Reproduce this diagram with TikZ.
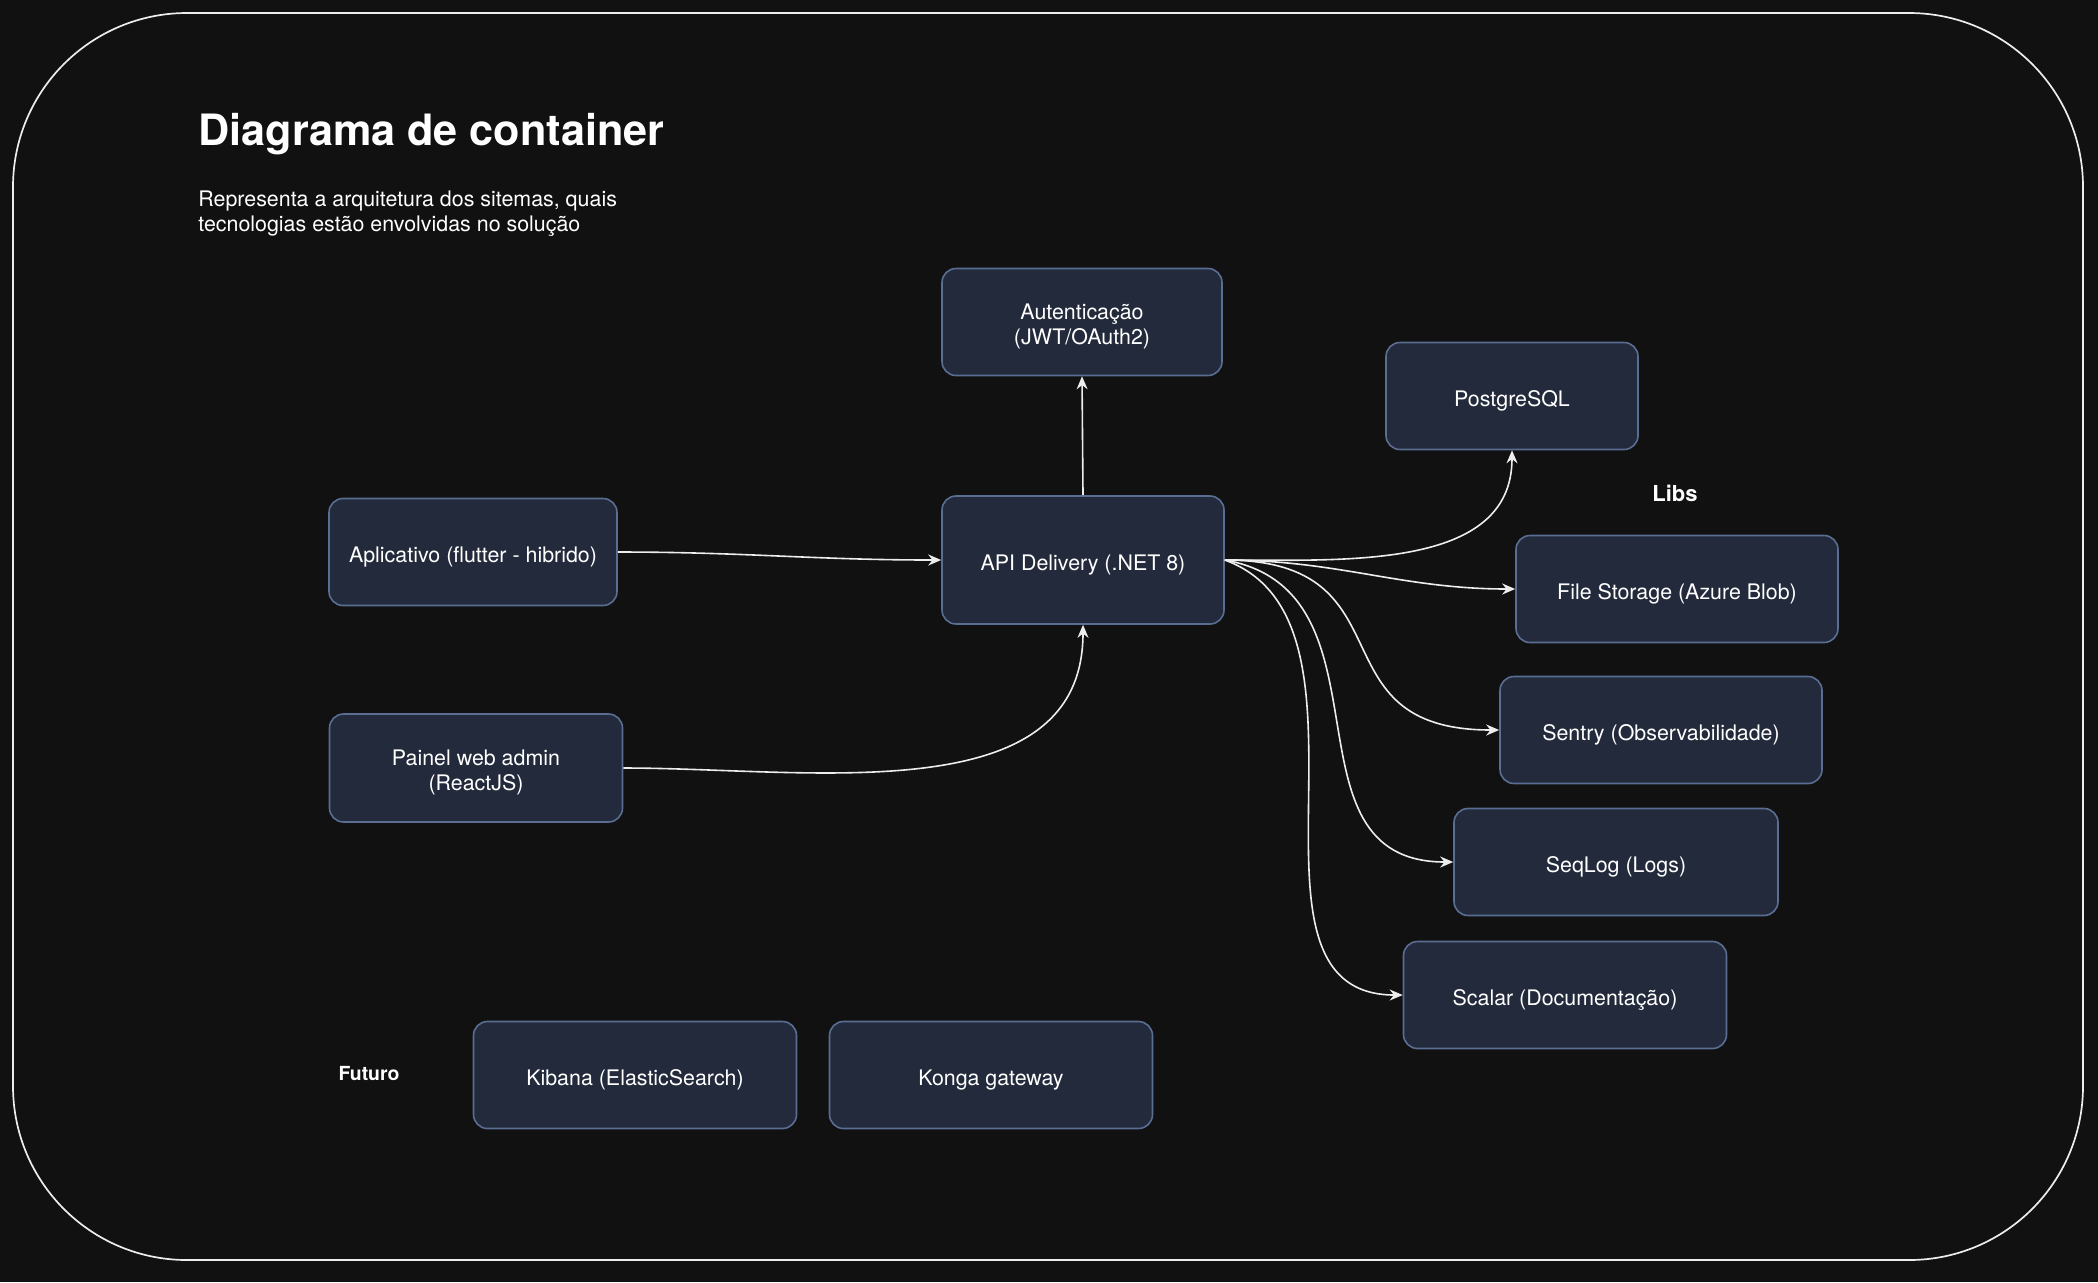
\documentclass[tikz,border=0pt]{standalone}
\usepackage{fontspec}
\setmainfont{TeX Gyre Heros}
\usetikzlibrary{arrows.meta}
\definecolor{fundo}{HTML}{111111}
\definecolor{caixa}{HTML}{232A3B}
\definecolor{borda}{HTML}{5A6D93}
\definecolor{linha}{HTML}{EDEDED}
\newcommand{\topo}{\rule{0pt}{11.8pt}}
\begin{document}
\begin{tikzpicture}[x=0.5pt, y=-0.5pt, >={Stealth[length=6.5pt,width=5.5pt]},
  font=\fontsize{10.7}{12.5}\selectfont,
  bloco/.style={draw=borda, fill=caixa, line width=0.8pt, rounded corners=7pt, text=white, align=center, minimum width=161pt, minimum height=53.5pt, inner sep=2pt},
  umalinha/.style={text height=10pt, text depth=0pt},
  seta/.style={->, draw=linha, line width=0.8pt}]
% Fundo
\fill[fundo] (0,0) rectangle (2098,1282);
\useasboundingbox (0,0) rectangle (2098,1282);
\draw[linha, line width=0.85pt, rounded corners=87pt] (13,13) rectangle (2083,1260);
% Textos
\node [anchor=base west, inner sep=0pt, text=white, font=\bfseries\fontsize{21.6}{26}\selectfont] (titulo) at (198,145) {Diagrama de container};
\node [anchor=west, text=white, align=left, inner sep=0pt] (descricao) at (198,214) {Representa a arquitetura dos sitemas, quais\\tecnologias estão envolvidas no solução};
\node [text=white, font=\bfseries\fontsize{11}{13}\selectfont] (libs) at (1675,493) {Libs};
\node [text=white, font=\bfseries\fontsize{9.7}{12}\selectfont] (futuro) at (369,1073) {Futuro};
% Nodos
\node [bloco, minimum width=140pt] (auth) at (1082,322) {\topo Autenticação\\(JWT/OAuth2)};
\node [bloco, umalinha, minimum width=126pt] (postgres) at (1512,396) {PostgreSQL};
\node [bloco, umalinha, minimum width=144pt] (app) at (473,552) {Aplicativo (flutter - hibrido)};
\node [bloco, umalinha, minimum width=141pt, minimum height=64pt] (api) at (1083,560) {API Delivery (.NET 8)};
\node [bloco, minimum width=146.5pt, minimum height=54pt] (painel) at (476,768) {\topo Painel web admin\\(ReactJS)};
\node [bloco, umalinha] (storage) at (1677,589) {File Storage (Azure Blob)};
\node [bloco, umalinha] (sentry) at (1661,730) {Sentry (Observabilidade)};
\node [bloco, umalinha, minimum width=162pt] (seqlog) at (1616,862) {SeqLog (Logs)};
\node [bloco, umalinha, minimum width=161.5pt] (scalar) at (1565,995) {Scalar (Documentação)};
\node [bloco, umalinha, minimum width=161.5pt] (kibana) at (635,1075) {Kibana (ElasticSearch)};
\node [bloco, umalinha, minimum width=161.5pt] (konga) at (991,1075) {Konga gateway};
% Ejes
% ---
% clientes
% ---
\path (app.east) edge [seta, out=0, in=180] (api.west);
\path (painel.east) edge [seta, out=0, in=-90] (api.south);
% ---
% API
% ---
\path (api.north) edge [seta] (auth.south);
\path (api.east) edge [seta, out=0, in=-90] (postgres.south);
\path (api.east) edge [seta, out=0, in=180] (storage.west);
\path (api.east) edge [seta, out=0, in=180, looseness=1.5] (sentry.west);
\path (api.east) edge [seta, out=-10, in=180, looseness=1.2] (seqlog.west);
\path (api.east) edge [seta, out=-20, in=180] (scalar.west);
\end{tikzpicture}
\end{document}
